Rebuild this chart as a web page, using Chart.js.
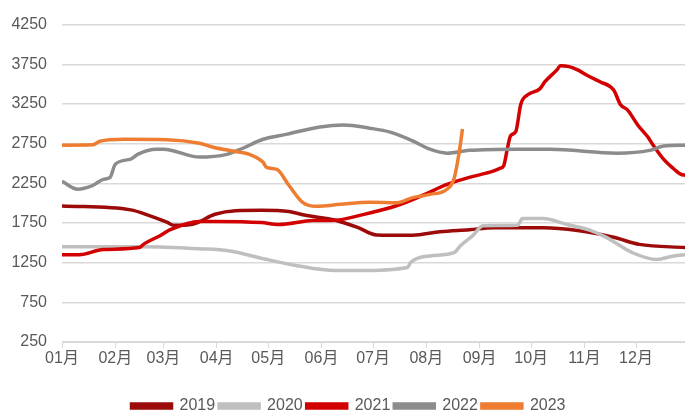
<!DOCTYPE html>
<html>
<head>
<meta charset="utf-8">
<script src="https://cdn.jsdelivr.net/npm/chart.js@4.4.0/dist/chart.umd.min.js"></script>
<style>
  html, body { margin: 0; padding: 0; background: #fff; }
  #wrap { width: 685px; height: 412px; }
</style>
</head>
<body>
<div id="wrap"><canvas id="priceChart" width="685" height="412"></canvas></div>
<script>
// day of year for month starts and their labels
const monthStarts = [0, 31, 59, 90, 120, 151, 181, 212, 243, 273, 304, 334];
const monthLabels = ['01月', '02月', '03月', '04月', '05月', '06月', '07月', '08月', '09月', '10月', '11月', '12月'];
const yTicks = [250, 750, 1250, 1750, 2250, 2750, 3250, 3750, 4250];

const years = ['2019', '2020', '2021', '2022', '2023'];
const colors = ['#9c0a0a', '#bfbfbf', '#d20000', '#8c8c8c', '#ee7d31'];

// values (x = day of year)
const days2019 = [0, 40, 50, 61, 65, 76, 89, 101, 116, 132, 141, 159, 172, 183, 204, 220, 237, 251, 280, 300, 321, 336, 363];
const vals2019 = [1965, 1915, 1850, 1760, 1720, 1735, 1860, 1905, 1910, 1895, 1850, 1785, 1695, 1600, 1595, 1640, 1665, 1690, 1690, 1655, 1570, 1480, 1440];

const days2020 = [0, 47, 80, 97, 118, 136, 159, 172, 201, 203, 214, 228, 232, 239, 245, 265, 268, 280, 294, 307, 317, 332, 346, 356, 363];
const vals2020 = [1450, 1450, 1425, 1400, 1295, 1215, 1150, 1150, 1190, 1255, 1335, 1375, 1465, 1590, 1715, 1720, 1805, 1805, 1730, 1660, 1565, 1375, 1290, 1335, 1350];

const days2021 = [0, 10, 24, 45, 48, 57, 63, 80, 89, 116, 126, 146, 159, 175, 195, 210, 224, 237, 249, 255, 257, 259, 261, 264, 267, 271, 278, 281, 288, 290, 295, 300, 306, 313, 321, 325, 329, 335, 341, 344, 350, 355, 360, 363];
const vals2021 = [1350, 1350, 1415, 1440, 1490, 1590, 1665, 1770, 1770, 1755, 1730, 1780, 1785, 1855, 1970, 2100, 2235, 2325, 2390, 2440, 2470, 2670, 2850, 2900, 3250, 3365, 3440, 3530, 3680, 3730, 3720, 3680, 3605, 3530, 3425, 3240, 3175, 2985, 2830, 2730, 2555, 2450, 2365, 2350];

const days2022 = [0, 9, 18, 24, 28, 31, 40, 44, 55, 59, 80, 96, 104, 117, 131, 150, 164, 179, 191, 203, 214, 224, 237, 265, 284, 323, 342, 350, 363];
const vals2022 = [2275, 2175, 2225, 2300, 2325, 2490, 2555, 2615, 2680, 2680, 2580, 2615, 2680, 2805, 2870, 2960, 2985, 2945, 2895, 2795, 2680, 2630, 2665, 2680, 2680, 2630, 2665, 2720, 2730];

const days2023 = [0, 18, 22, 36, 61, 80, 88, 104, 109, 117, 119, 125, 132, 140, 148, 162, 179, 195, 204, 214, 224, 228, 230, 232, 233];
const vals2023 = [2730, 2735, 2780, 2805, 2800, 2755, 2705, 2640, 2615, 2515, 2450, 2425, 2225, 2010, 1960, 1985, 2010, 2005, 2070, 2110, 2175, 2300, 2500, 2770, 2935];

const allDays = [days2019, days2020, days2021, days2022, days2023];
const allVals = [vals2019, vals2020, vals2021, vals2022, vals2023];

const fontFamily = '"Liberation Sans", Arial, "Noto Sans CJK SC", sans-serif';
const textColor = '#595959';
const gridColor = '#d9d9d9';

const datasets = years.map((y, i) => ({
    label: y,
    data: allDays[i].map((d, j) => ({ x: d, y: allVals[i][j] })),
    borderColor: colors[i],
    backgroundColor: colors[i],
    borderWidth: 3.5,
    pointRadius: 0,
    cubicInterpolationMode: 'monotone',
    order: years.length - i // later years drawn on top
}));

// nudge the legend down a bit, like the original
const legendShift = {
    id: 'legendShift',
    afterLayout(chart) {
        const lg = chart.legend;
        lg.top += 12; lg.bottom += 12;
        lg.left += 6; lg.right += 6;
    }
};

const ctx = document.getElementById('priceChart').getContext('2d');
new Chart(ctx, {
    type: 'line',
    data: { datasets: datasets },
    plugins: [legendShift],
    options: {
        responsive: false,
        animation: false,
        layout: { padding: { top: 16, right: 0, left: 0, bottom: 0 } },
        plugins: {
            tooltip: { enabled: false },
            legend: {
                position: 'bottom',
                labels: {
                    boxWidth: 40,
                    boxHeight: 4,
                    padding: 4,
                    color: textColor,
                    font: { family: fontFamily, size: 16 },
                    sort: (a, b) => a.datasetIndex - b.datasetIndex
                }
            }
        },
        scales: {
            x: {
                type: 'linear',
                min: 0,
                max: 362.5,
                afterBuildTicks: (scale) => {
                    scale.ticks = monthStarts.map(v => ({ value: v }));
                },
                afterFit: (scale) => { scale.height = 40; },
                ticks: {
                    color: textColor,
                    font: { family: fontFamily, size: 16 },
                    padding: 1,
                    maxRotation: 0,
                    autoSkip: false,
                    callback: (v) => monthLabels[monthStarts.indexOf(v)]
                },
                grid: {
                    drawOnChartArea: false,
                    color: gridColor,
                    tickLength: 6
                },
                border: { color: gridColor, width: 1 }
            },
            y: {
                min: 250,
                max: 4250,
                afterBuildTicks: (scale) => {
                    scale.ticks = yTicks.map(v => ({ value: v }));
                },
                afterFit: (scale) => { scale.width = 62; },
                ticks: {
                    color: textColor,
                    font: { family: fontFamily, size: 16 },
                    padding: 15,
                    callback: (v) => String(v)
                },
                grid: {
                    color: gridColor,
                    lineWidth: 1.5,
                    drawTicks: false
                },
                border: { display: false }
            }
        }
    }
});
</script>
</body>
</html>
